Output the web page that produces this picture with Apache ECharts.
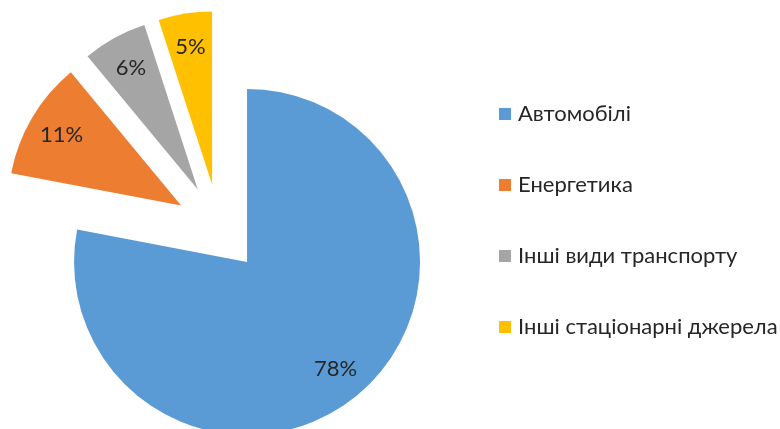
<!DOCTYPE html>
<html>
<head>
<meta charset="utf-8">
<script src="https://cdn.jsdelivr.net/npm/echarts@6/dist/echarts.min.js"></script>
<style>
html, body { margin: 0; padding: 0; background: #fff; }
#main { width: 780px; height: 429px; }
</style>
</head>
<body>
<div id="main"></div>
<script>
var categories = ['Автомобілі', 'Енергетика', 'Інші види транспорту', 'Інші стаціонарні джерела'];
var shares = [78, 11, 6, 5];
var colors = ['#5B9BD5', '#ED7D31', '#A5A5A5', '#FFC000'];

function buildData(transparent) {
    var out = [];
    for (var i = 0; i < categories.length; i++) {
        out.push({
            name: categories[i],
            value: shares[i],
            selected: true,
            itemStyle: { color: transparent ? 'rgba(0,0,0,0)' : colors[i] }
        });
    }
    return out;
}

var myChart = echarts.init(document.getElementById('main'), null, { renderer: 'canvas' });
var option = {
    animation: false,
    legend: {
        orient: 'vertical',
        left: 499,
        top: 103,
        padding: 0,
        icon: 'rect',
        itemWidth: 12,
        itemHeight: 12,
        itemGap: 49,
        selectedMode: false,
        data: categories,
        textStyle: {
            fontFamily: 'Lato',
            fontSize: 22,
            lineHeight: 22,
            color: '#262626',
            padding: [0, 0, 0, 2]
        }
    },
    series: [
        {
            type: 'pie',
            center: [219, 228],
            radius: [0, 173],
            startAngle: 90,
            clockwise: true,
            selectedMode: 'multiple',
            selectedOffset: 44,
            silent: true,
            label: { show: false },
            labelLine: { show: false },
            data: buildData(false)
        },
        {
            type: 'pie',
            center: [219, 228],
            radius: [99, 173],
            startAngle: 90,
            clockwise: true,
            selectedMode: 'multiple',
            selectedOffset: 44,
            silent: true,
            legendHoverLink: false,
            label: {
                show: true,
                position: 'inside',
                formatter: '{c}%',
                fontFamily: 'Lato',
                fontSize: 22,
                color: '#262626'
            },
            labelLine: { show: false },
            data: buildData(true)
        }
    ]
};
myChart.setOption(option);
</script>
</body>
</html>
